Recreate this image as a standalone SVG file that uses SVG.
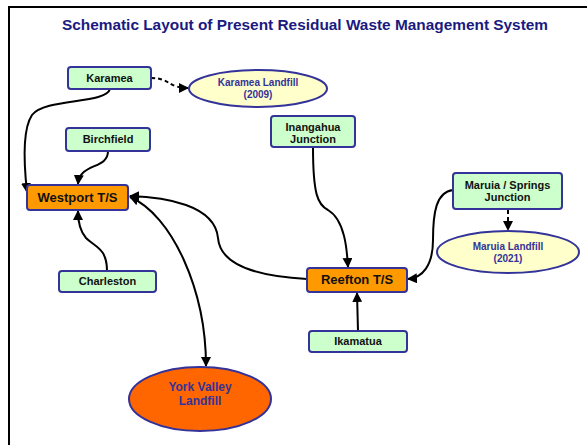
<svg xmlns="http://www.w3.org/2000/svg" width="587" height="445" viewBox="0 0 587 445">
<defs>
<style>
.box{fill:#ccffcc;stroke:#333399;stroke-width:2}
.ts{fill:#ff9900;stroke:#333399;stroke-width:2}
.lf{fill:#ffffcc;stroke:#333399;stroke-width:2}
.yv{fill:#ff6600;stroke:#333399;stroke-width:2}
.t{font-family:"Liberation Sans",Arial,sans-serif;font-weight:bold;text-anchor:middle;fill:#111111;font-size:11px}
.tb{font-size:13px}
.te{font-family:"Liberation Sans",Arial,sans-serif;font-weight:bold;text-anchor:middle;fill:#333399;font-size:10px}
.c{fill:none;stroke:#000000;stroke-width:2}
.d{fill:none;stroke:#000000;stroke-width:2;stroke-dasharray:4 3}
</style>
<marker id="ah" viewBox="0 0 10 10" refX="9" refY="5" markerWidth="5" markerHeight="5" orient="auto-start-reverse" markerUnits="strokeWidth">
<path d="M0,0 L10,5 L0,10 z" fill="#000000"/>
</marker>
</defs>
<rect width="587" height="445" fill="#ffffff"/>
<path d="M9,445 L9,7 L587,7" fill="none" stroke="#000000" stroke-width="2"/>
<text x="305" y="30" font-family="Liberation Sans,Arial,sans-serif" font-weight="bold" font-size="15.4" fill="#1a1a80" text-anchor="middle">Schematic Layout of Present Residual Waste Management System</text>

<g id="connectors">
<path class="d" d="M151,78 C170,78 168,88 188,88" marker-end="url(#ah)"/>
<path class="c" d="M110,89 C106,104 45,98 32,115 C22,130 24,165 27,192" marker-end="url(#ah)"/>
<path class="c" d="M108,151 C108,170 80,162 78,184" marker-end="url(#ah)"/>
<path class="c" d="M107,271 C107,248 95,247 86,238 C79,230 78,220 78,211" marker-end="url(#ah)"/>
<path class="c" d="M307,279 C250,276 220,262 218,238 C215,205 165,197 130,196" marker-end="url(#ah)"/>
<path class="c" d="M130,197 C172,215 206,290 206,366" marker-start="url(#ah)" marker-end="url(#ah)"/>
<path class="c" d="M313,147 C313,195 318,205 328,210 C345,220 347,250 348,267" marker-end="url(#ah)"/>
<path class="c" d="M453,190 C436,192 433,213 433,240 C433,266 422,278 408,279" marker-end="url(#ah)"/>
<path class="c" d="M358,331 L357,293" marker-end="url(#ah)"/>
<path class="d" d="M508,210 L508,230" marker-end="url(#ah)"/>
</g>

<g id="karamea"><rect class="box" x="68" y="67" width="83" height="22" rx="3"/><text class="t" x="109.5" y="81.5">Karamea</text></g>
<g id="karamea-landfill"><ellipse class="lf" cx="258" cy="88.5" rx="69" ry="18.5"/><text class="te" x="258" y="86">Karamea Landfill</text><text class="te" x="258" y="97.5">(2009)</text></g>
<g id="birchfield"><rect class="box" x="66" y="128" width="84" height="23" rx="3"/><text class="t" x="108" y="143">Birchfield</text></g>
<g id="westport"><rect class="ts" x="27" y="185" width="101" height="25" rx="3"/><text class="t tb" x="77.5" y="202">Westport T/S</text></g>
<g id="charleston"><rect class="box" x="59" y="271" width="97" height="21" rx="3"/><text class="t" x="107.5" y="285">Charleston</text></g>
<g id="inangahua"><rect class="box" x="271" y="116" width="84" height="31" rx="3"/><text class="t" x="313" y="131">Inangahua</text><text class="t" x="313" y="143">Junction</text></g>
<g id="maruia"><rect class="box" x="453" y="173" width="109" height="36" rx="3"/><text class="t" x="507.5" y="189">Maruia / Springs</text><text class="t" x="507.5" y="201">Junction</text></g>
<g id="maruia-landfill"><ellipse class="lf" cx="508" cy="252" rx="71" ry="21"/><text class="te" x="508" y="250">Maruia Landfill</text><text class="te" x="508" y="262">(2021)</text></g>
<g id="reefton"><rect class="ts" x="307" y="268" width="100" height="24" rx="3"/><text class="t tb" x="357" y="284">Reefton T/S</text></g>
<g id="ikamatua"><rect class="box" x="309" y="331" width="98" height="21" rx="3"/><text class="t" x="358" y="345">Ikamatua</text></g>
<g id="york-valley"><ellipse class="yv" cx="200" cy="399" rx="71" ry="32"/><text class="te" style="font-size:12px" x="200" y="391">York Valley</text><text class="te" style="font-size:12px" x="200" y="405">Landfill</text></g>
</svg>
